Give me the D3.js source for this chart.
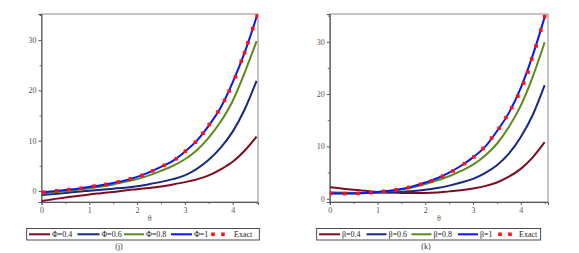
<!DOCTYPE html>
<html>
<head>
<meta charset="utf-8">
<script src="https://d3js.org/d3.v7.min.js"></script>
<style>
  body { margin: 0; background: #fff; }
  text { font-family: "Liberation Serif", "DejaVu Serif", serif; }
  .tick text { fill: #555; font-size: 8px; }
  .legend text { fill: #222; font-size: 8px; }
</style>
</head>
<body>
<div id="chart"></div>
<script>
// theta grid used by the curves
var thetas = [0, 0.25, 0.5, 0.75, 1, 1.25, 1.5, 1.75, 2, 2.25, 2.5, 2.75, 3, 3.25, 3.5, 3.75, 4, 4.25, 4.5];

// panel (j): fractional order Phi
var phi04 = [-2.0, -1.65, -1.3, -1.0, -0.7, -0.45, -0.2, 0.1, 0.35, 0.6, 0.9, 1.3, 1.75, 2.3, 3.1, 4.3, 5.8, 8.0, 10.8];
var phi06 = [-0.8, -0.6, -0.4, -0.15, 0.05, 0.25, 0.45, 0.65, 0.95, 1.35, 1.8, 2.35, 3.1, 4.4, 6.2, 8.6, 11.8, 16.2, 21.9];
var phi08 = [-0.55, -0.3, -0.05, 0.25, 0.55, 0.9, 1.3, 1.8, 2.35, 3.1, 4.0, 5.0, 6.3, 8.1, 10.6, 13.8, 17.9, 23.5, 29.8];
var phi1  = [-0.3, -0.05, 0.2, 0.45, 0.8, 1.15, 1.6, 2.1, 2.8, 3.7, 4.8, 6.0, 7.8, 10.0, 13.0, 16.6, 21.6, 27.5, 34.6];
var exactJ = [[0.05,-0.25],[0.32,0.02],[0.57,0.27],[0.83,0.55],[1.1,0.95],[1.35,1.3],[1.61,1.8],[1.86,2.4],
  [2.1,3.1],[2.33,4.0],[2.57,5.1],[2.82,6.4],[3.01,7.9],[3.22,9.7],[3.38,11.5],[3.51,13.2],[3.69,15.7],
  [3.83,18.0],[3.93,19.9],[4.06,22.7],[4.18,25.8],[4.25,27.5],[4.32,29.5],[4.42,32.3],[4.51,34.8]];

// panel (k): parameter beta
var beta04 = [2.2, 1.95, 1.7, 1.5, 1.3, 1.2, 1.1, 1.08, 1.1, 1.2, 1.4, 1.6, 1.95, 2.4, 3.1, 4.2, 5.7, 7.9, 10.8];
var beta06 = [1.2, 1.15, 1.1, 1.1, 1.15, 1.2, 1.3, 1.45, 1.7, 2.05, 2.5, 3.1, 3.8, 4.9, 6.4, 8.6, 11.8, 16.0, 21.7];
var beta08 = [1.1, 1.05, 1.05, 1.1, 1.25, 1.45, 1.75, 2.2, 2.8, 3.5, 4.3, 5.3, 6.5, 8.2, 10.5, 13.7, 17.8, 23.3, 29.9];
var beta1  = [1.0, 0.98, 1.0, 1.1, 1.3, 1.5, 1.85, 2.4, 3.1, 3.9, 5.0, 6.3, 7.9, 9.9, 12.9, 16.4, 21.2, 27.4, 34.7];
var exactK = [[0.02,1.0],[0.31,0.97],[0.59,1.02],[0.86,1.15],[1.13,1.4],[1.39,1.7],[1.65,2.15],[1.9,2.75],
  [2.13,3.4],[2.36,4.3],[2.58,5.3],[2.82,6.7],[3.02,8.0],[3.21,9.6],[3.39,11.6],[3.55,13.5],[3.69,15.5],
  [3.81,17.4],[3.94,19.6],[4.06,22.1],[4.15,24.2],[4.23,26.7],[4.32,29.2],[4.42,32.2],[4.5,34.8]];

var xTicks = [0, 1, 2, 3, 4];
var yTicks = [0, 10, 20, 30];
var colors = ["#7d0c1e", "#142a84", "#5b8a1c", "#0a14ff"];
var w = 579, h = 253;

var svg = d3.select("#chart").append("svg")
    .attr("width", w)
    .attr("height", h);

function drawPanel(o) {
    var x = d3.scaleLinear().domain(o.xDomain).range(o.xRange);
    var y = d3.scaleLinear().domain(o.yDomain).range([202, 14]);
    var g = svg.append("g");

    // frame
    g.append("rect")
        .attr("x", o.xRange[0]).attr("y", 14)
        .attr("width", o.xRange[1] - o.xRange[0]).attr("height", 188)
        .attr("fill", "none").attr("stroke", "#8a8a8a").attr("stroke-width", 1);

    // minor ticks
    var xMinor = d3.range(0.5, o.xDomain[1], 1);
    var yMinor = d3.range(5, o.yDomain[1], 10);
    g.append("g").attr("transform", "translate(0,202)")
        .call(d3.axisBottom(x).tickValues(xMinor).tickSize(2).tickFormat(""))
        .call(a => a.select(".domain").remove())
        .selectAll("line").attr("stroke", "#666");
    g.append("g").attr("transform", "translate(" + o.xRange[0] + ",0)")
        .call(d3.axisLeft(y).tickValues(yMinor).tickSize(2).tickFormat(""))
        .call(a => a.select(".domain").remove())
        .selectAll("line").attr("stroke", "#666");

    // major axes
    var xa = g.append("g").attr("transform", "translate(0,202)")
        .call(d3.axisBottom(x).tickValues(xTicks).tickSize(3).tickPadding(2).tickFormat(d3.format("d")));
    xa.select(".domain").attr("stroke", "#555");
    xa.selectAll("line").attr("stroke", "#555");
    var ya = g.append("g").attr("transform", "translate(" + o.xRange[0] + ",0)")
        .call(d3.axisLeft(y).tickValues(yTicks).tickSize(3).tickPadding(2).tickFormat(d3.format("d")));
    ya.select(".domain").attr("stroke", "#555");
    ya.selectAll("line").attr("stroke", "#555");
    g.selectAll(".tick text").attr("font-family", "Liberation Serif, serif");

    g.append("text")
        .attr("x", (o.xRange[0] + o.xRange[1]) / 2).attr("y", 221)
        .attr("text-anchor", "middle").attr("font-size", 8).attr("fill", "#555")
        .text("θ");

    // curves
    var line = d3.line().x(d => x(d[0])).y(d => y(d[1])).curve(d3.curveMonotoneX);
    var clip = "clip" + o.id;
    g.append("clipPath").attr("id", clip).append("rect")
        .attr("x", o.xRange[0]).attr("y", 14)
        .attr("width", o.xRange[1] - o.xRange[0]).attr("height", 188);
    var cg = g.append("g").attr("clip-path", "url(#" + clip + ")");
    o.series.forEach(function (s, i) {
        cg.append("path")
            .datum(thetas.map((t, k) => [t, s[k]]))
            .attr("d", line)
            .attr("fill", "none")
            .attr("stroke", colors[i])
            .attr("stroke-width", 2);
    });
    cg.selectAll("rect.dot")
        .data(o.exact)
        .enter().append("rect")
        .attr("class", "dot")
        .attr("x", d => x(d[0]) - 1.8).attr("y", d => y(d[1]) - 1.8)
        .attr("width", 3.6).attr("height", 3.6)
        .attr("fill", "#ff1010");

    // legend
    var lg = g.append("g").attr("class", "legend");
    lg.append("rect")
        .attr("x", o.legend.x0).attr("y", 228.5)
        .attr("width", o.legend.x1 - o.legend.x0).attr("height", 11.5)
        .attr("fill", "none").attr("stroke", "#222").attr("stroke-width", 0.8);
    o.legend.items.forEach(function (it, i) {
        lg.append("line")
            .attr("x1", it[0]).attr("x2", it[1]).attr("y1", 234.3).attr("y2", 234.3)
            .attr("stroke", colors[i]).attr("stroke-width", 2);
        lg.append("text").attr("x", it[1] + 2).attr("y", 237.2).text(o.labels[i]);
    });
    o.legend.dots.forEach(function (dx) {
        lg.append("rect").attr("x", dx - 1.8).attr("y", 232.5)
            .attr("width", 3.6).attr("height", 3.6).attr("fill", "#ff1010");
    });
    lg.append("text").attr("x", o.legend.exactX).attr("y", 237.2).text("Exact");

    g.append("text")
        .attr("x", o.captionX).attr("y", 249)
        .attr("text-anchor", "middle").attr("font-size", 8).attr("fill", "#333")
        .text(o.caption);
}

drawPanel({
    id: "j",
    xDomain: [0, 4.53], xRange: [41.5, 258],
    yDomain: [-2.2, 35.2],
    series: [phi04, phi06, phi08, phi1],
    exact: exactJ,
    labels: ["Φ=0.4", "Φ=0.6", "Φ=0.8", "Φ=1"],
    legend: { x0: 26.7, x1: 259.3,
              items: [[29, 50], [77.5, 99.5], [124, 144], [171, 192]],
              dots: [213, 223], exactX: 234 },
    caption: "(j)", captionX: 119
});

drawPanel({
    id: "k",
    xDomain: [0, 4.57], xRange: [329.8, 548],
    yDomain: [-0.63, 35.3],
    series: [beta04, beta06, beta08, beta1],
    exact: exactK,
    labels: ["β=0.4", "β=0.6", "β=0.8", "β=1"],
    legend: { x0: 316.7, x1: 540.7,
              items: [[319, 340], [366.5, 386.5], [411.5, 431.5], [458, 478]],
              dots: [500, 510], exactX: 519 },
    caption: "(k)", captionX: 426
});
</script>
</body>
</html>
